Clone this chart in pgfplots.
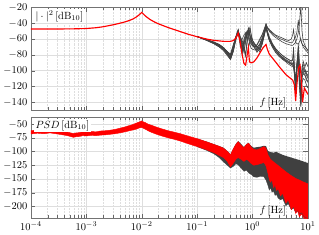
\documentclass[border=0pt]{standalone}
\usepackage{pgfplots}
\usepackage{pgfplotstable}
\pgfplotsset{compat=1.18}
\usepgfplotslibrary{fillbetween}
\definecolor{dg}{RGB}{64,64,64}

\pgfplotstableread{
f r
1e-4 -47.5
3e-4 -47.4
6e-4 -47.2
1e-3 -46.8
1.5e-3 -45.8
2e-3 -44.6
3e-3 -42.2
4e-3 -40.2
5e-3 -38.4
6e-3 -36.6
7e-3 -34.6
8e-3 -32.2
9e-3 -29.4
1e-2 -26.5
1.1e-2 -29.4
1.2e-2 -31.8
1.4e-2 -35.3
1.7e-2 -38.6
2e-2 -40.9
3e-2 -45.6
5e-2 -50.8
7e-2 -54.2
0.1 -57.2
0.15 -60.2
0.2 -61.8
0.3 -63
0.4 -63
0.45 -62
0.5 -59
0.55 -52.5
0.6 -64
0.65 -80
0.7 -91
0.75 -93
0.8 -80
0.84 -71
0.88 -89
0.95 -90
1.05 -89
1.2 -84
1.4 -76
1.55 -71
1.75 -67
1.85 -73
2.0 -79
2.6 -89
3.2 -97
4.0 -105
5.3 -112
5.7 -118
6.0 -138
6.3 -118
6.8 -96
7.2 -93
7.6 -110
8.0 -140
8.6 -122
9.3 -126
10 -130
}\redT

\pgfplotstableread{
f g1 g2 g3 g4 g5 g6 g7 g8 g9 g10
0.1 -57 -57 -57 -57 -57 -57 -57 -57 -57 -57
0.15 -61 -61 -61.5 -61 -61.5 -62 -61 -61.5 -62 -61
0.2 -64 -64.5 -65 -64 -65 -66 -64.5 -65 -66 -64
0.25 -67 -68 -69 -67 -68 -70 -68 -69 -70 -67
0.3 -71 -72 -73 -71 -72 -74 -72 -73 -75 -71
0.35 -76 -78 -79 -76 -78 -80 -77 -79 -81 -76
0.4 -82 -84 -85 -80 -83 -86 -81 -84 -86 -79
0.45 -70 -72 -74 -68 -71 -75 -69 -73 -76 -67
0.5 -58 -59 -60 -57 -59 -60 -57 -59 -61 -57
0.55 -49 -50 -51 -49 -50 -51 -48 -50 -52 -49
0.6 -60 -58 -62 -66 -57 -63 -70 -59 -64 -61
0.65 -70 -64 -72 -80 -62 -74 -60 -66 -76 -68
0.7 -66 -75 -62 -60 -70 -65 -55 -77 -68 -74
0.75 -57 -62 -55 -54 -80 -58 -52 -64 -60 -82
0.8 -50 -53 -50 -50 -60 -52 -60 -54 -54 -62
0.85 -55 -46 -58 -60 -50 -47 -70 -48 -50 -52
0.9 -62 -56 -64 -68 -45 -55 -62 -58 -56 -48
0.95 -66 -62 -67 -72 -55 -61 -58 -64 -62 -56
1.0 -68 -65 -69 -73 -62 -66 -62 -68 -66 -62
1.1 -70 -68 -70 -74 -67 -70 -66 -72 -72 -68
1.2 -68 -70 -67 -72 -70 -74 -70 -75 -77 -72
1.35 -62 -67 -60 -66 -72 -68 -74 -70 -72 -76
1.5 -55 -60 -54 -58 -64 -60 -66 -62 -63 -66
1.65 -47 -50 -46 -49 -52 -50 -54 -51 -52 -54
1.75 -41 -42 -41 -43 -44 -43 -45 -44 -44 -46
1.85 -45 -46 -46 -50 -52 -50 -53 -52 -51 -54
2.0 -48 -49 -50 -57 -60 -58 -61 -60 -59 -62
2.3 -52 -53 -55 -66 -69 -67 -70 -68 -68 -71
2.6 -55 -56 -58 -72 -74 -72 -76 -74 -74 -77
3.0 -57 -59 -61 -77 -79 -77 -81 -79 -80 -82
3.5 -59 -61 -64 -81 -84 -81 -85 -83 -84 -86
4.0 -61 -63 -66 -84 -87 -84 -88 -86 -88 -89
4.5 -62 -64 -67 -86 -89 -86 -90 -88 -90 -92
5.0 -60 -65 -68 -88 -91 -88 -92 -90 -92 -94
5.3 -55 -64 -68 -86 -92 -87 -93 -91 -93 -95
5.5 -48 -62 -67 -70 -90 -75 -94 -88 -94 -96
5.7 -58 -60 -66 -95 -100 -98 -105 -100 -100 -105
6.0 -64 -57 -64 -120 -126 -115 -128 -110 -118 -130
6.3 -66 -52 -60 -95 -100 -90 -98 -92 -100 -102
6.7 -66 -36 -52 -75 -80 -70 -66 -80 -85 -82
7.0 -64 -52 -42 -95 -110 -100 -88 -105 -115 -120
7.45 -60 -62 -18 -125 -140 -130 -145 -135 -142 -146
7.8 -66 -66 -50 -100 -105 -95 -110 -100 -108 -115
8.2 -70 -68 -62 -88 -98 -92 -102 -96 -104 -110
8.8 -73 -70 -68 -95 -102 -98 -105 -100 -106 -112
9.4 -75 -72 -72 -90 -106 -103 -112 -104 -110 -118
10 -78 -74 -75 -95 -110 -106 -115 -108 -114 -122
}\grayT

\pgfplotstableread{
f v
1e-4 -62
1.3e-4 -60.5
1.7e-4 -61.5
2.2e-4 -60
2.8e-4 -61.5
3.5e-4 -62.5
4.3e-4 -64
5e-4 -65.5
5.8e-4 -67
6.5e-4 -66
7.5e-4 -65.5
8.5e-4 -64
1e-3 -64.5
1.2e-3 -63.5
1.5e-3 -64
1.8e-3 -62.5
2.2e-3 -62
2.7e-3 -61
3.3e-3 -59.5
4e-3 -57.5
5e-3 -55
6e-3 -52.5
7e-3 -50.5
8e-3 -48
9e-3 -46
1e-2 -44
1.05e-2 -45.5
1.15e-2 -47
1.3e-2 -50
1.5e-2 -52
1.8e-2 -55
2.2e-2 -58
3e-2 -62
4e-2 -65
5e-2 -67.5
7e-2 -72
0.1 -76.5
0.15 -82.5
0.2 -87
0.25 -90.5
0.3 -94
0.35 -100
0.4 -106
0.45 -95
0.5 -87
0.55 -82
0.62 -88
0.7 -93
0.78 -87
0.85 -85
0.95 -92
1.05 -96
1.2 -97
1.4 -94
1.6 -91
1.75 -94
1.9 -106
2.1 -114
2.4 -119
2.7 -123
3.2 -129
4.0 -137
5.0 -144
6.0 -149
7.0 -152
8.5 -156
10 -159
}\ruT

\pgfplotstableread{
f v
1e-4 -68
1.3e-4 -66.5
1.7e-4 -67.5
2.2e-4 -66
2.8e-4 -67.5
3.5e-4 -69
4.3e-4 -70.5
5e-4 -72
5.8e-4 -74
6.5e-4 -73
7.5e-4 -72.5
8.5e-4 -71
1e-3 -71.5
1.2e-3 -70.5
1.5e-3 -71
1.8e-3 -70
2.2e-3 -69.5
2.7e-3 -68.5
3.3e-3 -67.5
4e-3 -66
5e-3 -64
6e-3 -62
7e-3 -60.5
8e-3 -59
9e-3 -57
1e-2 -56
1.15e-2 -59
1.3e-2 -62
1.5e-2 -65
1.8e-2 -68
2.2e-2 -71
3e-2 -75
4e-2 -78
5e-2 -81
7e-2 -86
0.1 -91
0.15 -97
0.2 -102
0.25 -107
0.3 -111
0.35 -118
0.4 -128
0.45 -121
0.5 -114
0.55 -111
0.62 -114
0.7 -118
0.78 -114
0.85 -117
0.95 -122
1.05 -125
1.2 -124
1.4 -122
1.6 -120
1.75 -126
1.9 -140
2.0 -150
2.1 -156
2.25 -152
2.4 -166
2.55 -160
2.7 -171
2.9 -168
3.2 -181
3.5 -176
4.0 -194
4.4 -188
5.0 -206
5.5 -200
6.0 -213
6.5 -208
7.0 -219
7.7 -214
8.5 -222
10 -222
}\rlT

\pgfplotstableread{
f v
0.1 -76.5
0.15 -82
0.2 -86.5
0.25 -90
0.3 -93
0.35 -99
0.4 -105
0.45 -94.5
0.5 -86
0.55 -81
0.62 -86
0.7 -92
0.78 -86
0.85 -84
0.95 -90
1.05 -93
1.2 -92
1.4 -91
1.6 -89.5
1.75 -90
1.9 -99
2.1 -101
2.4 -102
2.7 -100.5
3.0 -103
3.5 -106
4.0 -108
5.0 -111
6.0 -113.5
7.0 -115.5
8.5 -118.5
10 -121
}\guT

\pgfplotstableread{
f v
0.1 -91
0.15 -98
0.2 -104
0.25 -111
0.3 -119
0.35 -125
0.4 -130
0.45 -127
0.5 -122
0.55 -124
0.62 -130
0.7 -136
0.78 -134
0.85 -139
0.95 -142
1.05 -146
1.2 -147
1.4 -145
1.6 -146
1.75 -152
1.9 -162
2.0 -170
2.1 -166
2.25 -174
2.4 -172
2.55 -180
2.7 -178
2.9 -185
3.2 -188
3.5 -186
4.0 -199
4.4 -195
5.0 -206
5.5 -203
6.0 -211
6.5 -208
7.0 -214
7.7 -212
8.5 -219
10 -222
}\glT

\begin{document}
\begin{tikzpicture}
\begin{axis}[at={(0,0)}, anchor=north west,
  scale only axis, width=265pt, height=98.5pt,
  xmode=log, xmin=1e-4, xmax=10,
  grid=both,
  major grid style={black!13},
  minor grid style={black!13, densely dotted},
  axis line style={black!55},
  tick style={black!60},
  minor y tick num=0,
  xtick={1e-4,1e-3,1e-2,1e-1,1,10},
  ymin=-150, ymax=-20, ytick={-140,-120,-100,-80,-60,-40,-20},
  xticklabels=\empty]
\pgfplotsinvokeforeach{1,...,10}{
  \addplot[dg, line width=0.55pt] table[x=f, y=g#1] {\grayT};
}
\addplot[red, line width=1.1pt] table[x=f, y=r] {\redT};
\node[anchor=north west, fill=white, inner sep=1.5pt] at (rel axis cs:0.01,0.985) {$|\cdot|^2\,[\mathrm{dB}_{10}]$};
\node[anchor=south east, inner sep=1pt] at (rel axis cs:0.925,0.01) {$f\,[\mathrm{Hz}]$};
\end{axis}

\begin{axis}[at={(0,-105pt)}, anchor=north west,
  scale only axis, width=265pt, height=97pt,
  xmode=log, xmin=1e-4, xmax=10,
  grid=both,
  major grid style={black!13},
  minor grid style={black!13, densely dotted},
  axis line style={black!55},
  tick style={black!60},
  minor y tick num=0,
  xtick={1e-4,1e-3,1e-2,1e-1,1,10},
  ymin=-222, ymax=-37, ytick={-200,-175,-150,-125,-100,-75,-50}]
\addplot[name path=gu, draw=none] table[x=f, y=v] {\guT};
\addplot[name path=gl, draw=none] table[x=f, y=v] {\glT};
\addplot[dg] fill between[of=gu and gl];
\addplot[dg, line width=0.3pt] table[x=f, y=v] {\glT};
\addplot[name path=ru, red, line width=0.4pt] table[x=f, y=v] {\ruT};
\addplot[name path=rl, red, line width=0.4pt] table[x=f, y=v] {\rlT};
\addplot[red] fill between[of=ru and rl];
\node[anchor=north west, fill=white, inner sep=1.5pt] at (rel axis cs:0.01,0.985) {$PSD\,[\mathrm{dB}_{10}]$};
\node[anchor=south east, inner sep=1pt] at (rel axis cs:0.925,0.01) {$f\,[\mathrm{Hz}]$};
\end{axis}
\end{tikzpicture}
\end{document}
